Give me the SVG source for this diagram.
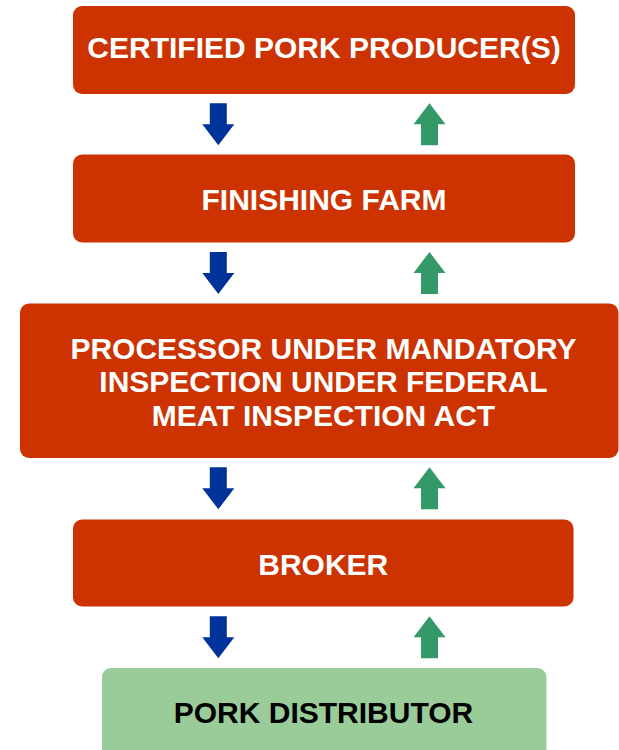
<svg xmlns="http://www.w3.org/2000/svg" xmlns:xlink="http://www.w3.org/1999/xlink" width="619" height="750" viewBox="0 0 619 750">
  <style>
    .red { fill: #CC3300; }
    .green { fill: #99CC99; }
    .lbl { font-family: "Liberation Sans", Arial, sans-serif; font-weight: bold; font-size: 30px; text-anchor: middle; fill: #FFFFFF; }
    .dark { fill: #000000; }
    .down { fill: #003399; }
    .up { fill: #339966; }
  </style>
  <defs>
    <polygon id="downArrow" class="down" points="-8.5,0 8.5,0 8.5,21 16,21 0,42 -16,21 -8.5,21"/>
    <polygon id="upArrow" class="up" points="0,0 16,21 8.5,21 8.5,42 -8.5,42 -8.5,21 -16,21"/>
  </defs>
  <rect width="619" height="750" fill="#FFFFFF"/>

  <g id="node-producer">
    <rect class="red" x="73" y="6" width="502" height="88" rx="9"/>
    <text class="lbl" x="324" y="57.5">CERTIFIED PORK PRODUCER(S)</text>
  </g>
  <g id="node-finishing">
    <rect class="red" x="73" y="154.5" width="502" height="88" rx="9"/>
    <text class="lbl" x="324" y="210">FINISHING FARM</text>
  </g>
  <g id="node-processor">
    <rect class="red" x="20" y="303.5" width="598.5" height="154.5" rx="9"/>
    <text class="lbl" x="323.5" y="358.5">PROCESSOR UNDER MANDATORY</text>
    <text class="lbl" x="323.5" y="392">INSPECTION UNDER FEDERAL</text>
    <text class="lbl" x="323.5" y="425.5">MEAT INSPECTION ACT</text>
  </g>
  <g id="node-broker">
    <rect class="red" x="73" y="519.5" width="500.5" height="87" rx="9"/>
    <text class="lbl" x="323.3" y="574.5">BROKER</text>
  </g>
  <g id="node-distributor">
    <rect class="green" x="102" y="668" width="444.5" height="95" rx="9"/>
    <text class="lbl dark" x="323.5" y="722.8">PORK DISTRIBUTOR</text>
  </g>

  <g id="connectors">
    <use xlink:href="#downArrow" x="218.3" y="103.3"/>
    <use xlink:href="#upArrow" x="429.5" y="103.3"/>
    <use xlink:href="#downArrow" x="218.3" y="252"/>
    <use xlink:href="#upArrow" x="429.5" y="252"/>
    <use xlink:href="#downArrow" x="218.3" y="467.3"/>
    <use xlink:href="#upArrow" x="429.5" y="467.3"/>
    <use xlink:href="#downArrow" x="218.3" y="616.2"/>
    <use xlink:href="#upArrow" x="429.5" y="616.2"/>
  </g>
</svg>
